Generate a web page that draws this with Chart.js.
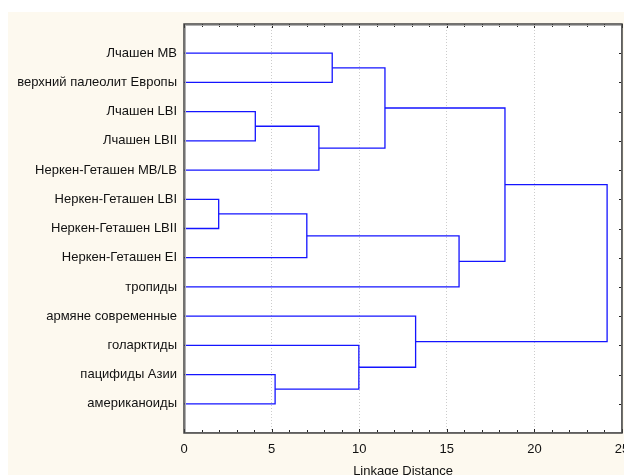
<!DOCTYPE html>
<html>
<head>
<meta charset="utf-8">
<script src="https://cdn.jsdelivr.net/npm/chart.js@4.4.1/dist/chart.umd.min.js"></script>
<style>
  html, body { margin: 0; padding: 0; background: #ffffff; overflow: hidden; }
  #bg { position: absolute; left: 8px; top: 12px; width: 616px; height: 463px; background: #fdf9ef; }
  #chart { position: absolute; left: 0; top: 0; }
</style>
</head>
<body>
<div id="bg"></div>
<canvas id="chart" width="624" height="475"></canvas>
<script>
// leaves, top to bottom
const leafNames = [
    'Лчашен MB',
    'верхний палеолит Европы',
    'Лчашен LBI',
    'Лчашен LBII',
    'Неркен-Геташен MB/LB',
    'Неркен-Геташен LBI',
    'Неркен-Геташен LBII',
    'Неркен-Геташен EI',
    'тропиды',
    'армяне современные',
    'голарктиды',
    'пацифиды Азии',
    'американоиды'
];

// merges: node ids 0..12 are leaves, merge k creates node 13+k
const mergeLeft   = [5, 2, 11, 13, 14, 0, 15, 18, 9, 16, 20, 23];
const mergeRight  = [6, 3, 12, 7, 4, 1, 10, 17, 19, 8, 22, 21];
const mergeHeight = [1.98, 4.07, 5.2, 7.01, 7.70, 8.46, 9.98, 11.47, 13.22, 15.70, 18.32, 24.15];

const distanceTicks = [0, 5, 10, 15, 20, 25];

const FONT = { family: '"Liberation Sans", Arial, sans-serif', size: 13 };
const LINE_COLOR = '#1414ff';

// --- build link paths from the merge table ---
function buildLinks() {
    const nodeX = leafNames.map(() => 0);
    const nodeY = leafNames.map((_, i) => i + 1);
    const sets = [];
    mergeHeight.forEach((h, k) => {
        const a = mergeLeft[k], b = mergeRight[k];
        sets.push({
            data: [
                { x: nodeX[a], y: nodeY[a] },
                { x: h, y: nodeY[a] },
                { x: h, y: nodeY[b] },
                { x: nodeX[b], y: nodeY[b] }
            ],
            borderColor: LINE_COLOR,
            borderWidth: 1.3,
            pointRadius: 0,
            tension: 0,
            fill: false
        });
        nodeX.push(h);
        nodeY.push((nodeY[a] + nodeY[b]) / 2);
    });
    return sets;
}

// white plot area + inward ticks (under the links)
const plotBack = {
    id: 'plotBack',
    beforeDraw(chart) {
        const { ctx, chartArea: a } = chart;
        ctx.save();
        ctx.fillStyle = '#ffffff';
        ctx.fillRect(a.left, a.top, a.right - a.left, a.bottom - a.top);
        ctx.restore();
    },
    beforeDatasetsDraw(chart) {
        const { ctx, chartArea: a, scales: { x, y } } = chart;
        ctx.save();
        ctx.strokeStyle = '#222';
        ctx.lineWidth = 1;
        ctx.beginPath();
        for (let v = 0; v <= 25; v++) {
            const px = Math.round(x.getPixelForValue(v)) + 0.5;
            const len = v % 5 === 0 ? 4 : 3;
            ctx.moveTo(px, a.top); ctx.lineTo(px, a.top + len);
            ctx.moveTo(px, a.bottom); ctx.lineTo(px, a.bottom - len);
        }
        // only the right axis shows leaf ticks
        leafNames.forEach((_, i) => {
            const py = Math.round(y.getPixelForValue(i + 1)) + 0.5;
            ctx.moveTo(a.right, py); ctx.lineTo(a.right - 3, py);
        });
        ctx.stroke();
        ctx.restore();
    }
};

// frame like the Statistica plot
const framePlugin = {
    id: 'frame',
    afterDraw(chart) {
        const { ctx, chartArea: a } = chart;
        ctx.save();
        ctx.strokeStyle = '#b0b0b0';
        ctx.lineWidth = 1;
        ctx.strokeRect(a.left + 1.5, a.top + 1.5, a.right - a.left - 2, a.bottom - a.top - 2);
        ctx.strokeStyle = '#444';
        ctx.lineWidth = 1.5;
        ctx.strokeRect(a.left, a.top, a.right - a.left, a.bottom - a.top);
        ctx.restore();
    }
};

new Chart(document.getElementById('chart'), {
    type: 'line',
    data: { datasets: buildLinks() },
    options: {
        responsive: false,
        animation: false,
        layout: { padding: { top: 24, right: 2, left: 0, bottom: 0 } },
        plugins: { legend: { display: false }, tooltip: { enabled: false } },
        scales: {
            x: {
                type: 'linear',
                min: 0,
                max: 25,
                afterBuildTicks: (s) => { s.ticks = distanceTicks.map(v => ({ value: v })); },
                afterFit: (s) => { s.height = 42; s.paddingLeft = 0; s.paddingRight = 0; },
                ticks: { color: '#111', font: FONT, padding: 9, maxRotation: 0 },
                grid: {
                    drawTicks: false,
                    color: (c) => (c.tick && (c.tick.value === 0 || c.tick.value === 25)) ? 'rgba(0,0,0,0)' : '#cccccc',
                    lineWidth: 1
                },
                border: { display: false, dash: [1, 2] },
                title: {
                    display: true,
                    text: 'Linkage Distance',
                    color: '#111',
                    font: { family: FONT.family, size: 13, lineHeight: 1 },
                    padding: { top: 0, bottom: -3 }
                }
            },
            y: {
                type: 'linear',
                min: 0,
                max: 14,
                reverse: true,
                afterBuildTicks: (s) => { s.ticks = leafNames.map((_, i) => ({ value: i + 1 })); },
                afterFit: (s) => { s.width = 184; s.paddingTop = 0; s.paddingBottom = 0; },
                ticks: {
                    color: '#111',
                    font: FONT,
                    padding: 7,
                    callback: (v) => leafNames[v - 1] || ''
                },
                grid: { display: false, drawTicks: false },
                border: { display: false }
            }
        }
    },
    plugins: [plotBack, framePlugin]
});
</script>
</body>
</html>
